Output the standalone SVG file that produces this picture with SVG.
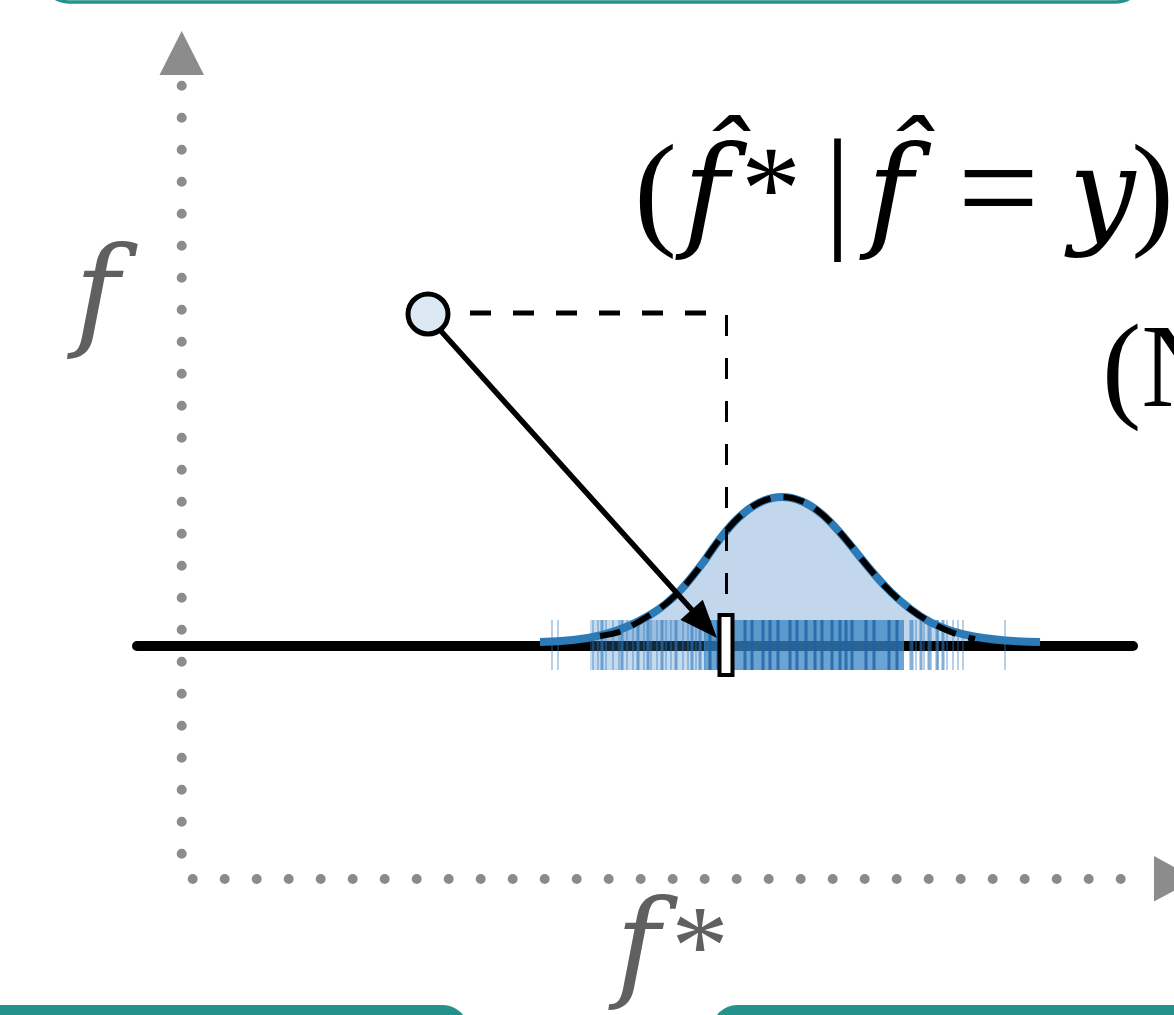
<svg xmlns="http://www.w3.org/2000/svg" width="1174" height="1015" viewBox="0 0 1174 1015">
<style>
.frame{fill:none;stroke:#24918b;stroke-width:3.5}
.frameFill{fill:#24918b}
.axis{stroke:#8c8c8c;stroke-width:10;stroke-linecap:round;stroke-dasharray:0 32;fill:none}
.axhead{fill:#8c8c8c}
.lbl{font-family:"Liberation Serif","Times New Roman",serif;fill:#606060}
.eq{font-family:"Liberation Serif","Times New Roman",serif;fill:#000}
.it{font-family:"DejaVu Serif","Liberation Serif",serif;font-style:italic}
.rugA{stroke:#2f7bbf;stroke-width:2;opacity:.35}
.rugB{stroke:#2f7bbf;stroke-width:3;opacity:.6}
.rugC{stroke:#1f64a6;stroke-width:3;opacity:.8}
</style>
<g id="frames">
<rect class="frame" x="40" y="-100" width="1105" height="102" rx="30"/>
<rect class="frameFill" x="-60" y="1005" width="528" height="100" rx="25"/>
<rect class="frameFill" x="712" y="1005" width="540" height="100" rx="25"/>
</g>
<g id="axes">
<line class="axis" x1="181.7" y1="85.7" x2="181.7" y2="854"/>
<polygon class="axhead" points="181.7,31 159.5,75 204,75"/>
<line class="axis" x1="192.7" y1="879" x2="1152.7" y2="879"/>
<polygon class="axhead" points="1154,856 1154,901.5 1196,879"/>
</g>
<g id="axis-labels">
<text class="lbl" x="97" y="334" font-size="124" text-anchor="middle"><tspan class="it" font-size="122">f</tspan></text>
<text class="lbl" y="985" font-size="124"><tspan class="it" x="638" text-anchor="middle" font-size="120">f</tspan><tspan x="700" y="984" font-size="115" text-anchor="middle">*</tspan></text>
</g>
<g id="distribution">
<path d="M540 642 C590 641,620 633,650 615 C675 600,690 580,705 560 C725 530,750 497,782 497 C812 497,835 525,860 557 C880 582,900 605,930 622 C955 635,985 641,1040 642 L1040 645 L540 645 Z" fill="#c3d7ec" stroke="none"/>
</g>
<g id="baseline">
<line x1="137" y1="646" x2="1133" y2="646" stroke="#000" stroke-width="10" stroke-linecap="round"/>
</g>
<g id="rug">
<rect x="590" y="620" width="115" height="50" fill="#3a84c3" opacity=".3"/>
<rect x="704" y="620" width="200" height="50" fill="#3a84c3" opacity=".75"/>
<path class="rugA" d="M552 620v50M558 620v50M593 620v50M598 620v50M606 620v50M613 620v50M619 620v50M627 620v50M633 620v50M644 620v50M651 620v50M657 620v50M666 620v50M671 620v50M683 620v50M688 620v50M696 620v50M910 620v50M916 620v50M924 620v50M931 620v50M938 620v50M947 620v50M953 620v50M958 620v50M963 620v50M1005 620v50"/>
<path class="rugB" d="M602 620v50M622 620v50M638 620v50M648 620v50M662 620v50M676 620v50M692 620v50M700 620v50M912 620v50M921 620v50M929 620v50M937 620v50M943 620v50"/>
<path class="rugC" d="M710 620v50M718 620v50M745 620v50M752 620v50M763 620v50M770 620v50M778 620v50M790 620v50M797 620v50M806 620v50M815 620v50M822 620v50M832 620v50M840 620v50M846 620v50M852 620v50M866 620v50M874 620v50M889 620v50M897 620v50"/>
</g>
<g id="curve">
<path d="M540 642 C590 641,620 633,650 615 C675 600,690 580,705 560 C725 530,750 497,782 497 C812 497,835 525,860 557 C880 582,900 605,930 622 C955 635,985 641,1040 642" fill="none" stroke="#2c7bb6" stroke-width="8"/>
<path d="M600 636 C620 633,620 633,650 615 C675 600,690 580,705 560 C725 530,750 497,782 497 C812 497,835 525,860 557 C880 582,900 605,930 622 C945 630,955 635,975 639" fill="none" stroke="#000" stroke-width="6" stroke-dasharray="21 13"/>
</g>
<g id="connectors">
<line x1="470" y1="313" x2="712" y2="313" stroke="#000" stroke-width="5" stroke-dasharray="21 22"/>
<line x1="726.5" y1="315" x2="726.5" y2="615" stroke="#000" stroke-width="3" stroke-dasharray="21 22"/>
<line x1="440" y1="330" x2="692" y2="610" stroke="#000" stroke-width="5.5"/>
<polygon points="717,638 680.4,619.7 702.8,599.7" fill="#000"/>
</g>
<g id="marker">
<rect x="719.5" y="615" width="13" height="60" fill="#fff" stroke="#000" stroke-width="4"/>
</g>
<g id="point">
<circle cx="428" cy="314" r="20" fill="#dce9f5" stroke="#000" stroke-width="5"/>
</g>
<g id="formula">
<text class="eq" y="232" font-size="128" text-anchor="middle"><tspan x="655.5">(</tspan><tspan class="it" x="706" y="234" font-size="124">f̂</tspan><tspan x="771" y="229" font-size="120">*</tspan><tspan x="837.5" y="233" font-size="135">|</tspan><tspan class="it" x="890" y="234" font-size="124">f̂</tspan><tspan x="998.5" y="236" font-size="145">=</tspan><tspan class="it" x="1102" y="232" font-size="118">y</tspan><tspan x="1152.5" y="232">)</tspan></text>
<text class="eq" x="1102" y="406" font-size="118">(N</text>
</g>
</svg>
